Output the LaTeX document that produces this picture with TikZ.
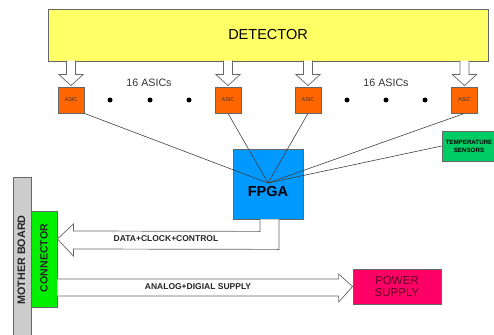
\documentclass[tikz,border=0pt]{standalone}
\usepackage{fontspec}
\setmainfont{Liberation Sans}
\usetikzlibrary{calc}
\definecolor{detyellow}{HTML}{FFFF66}
\definecolor{asicorange}{HTML}{FF6600}
\definecolor{fpgablue}{HTML}{0099FF}
\definecolor{tempgreen}{HTML}{00CC66}
\definecolor{conngreen}{HTML}{00F000}
\definecolor{mbgray}{HTML}{CCCCCC}
\definecolor{powerpink}{HTML}{FF0066}
\definecolor{edge}{HTML}{666666}
\definecolor{wire}{HTML}{404040}
\definecolor{powertext}{HTML}{5A0020}
\tikzset{
  box/.style={draw=edge, line width=0.8pt, inner sep=0pt, align=center},
  asicbox/.style={box, fill=asicorange, minimum width=26pt, minimum height=26pt,
    font=\fontsize{5.5}{6}\selectfont, text=black!80},
  hollow/.style={draw=edge, fill=white, line width=0.7pt, line join=miter},
  link/.style={draw=wire, line width=0.6pt},
  dotmark/.style={fill=black, circle, inner sep=0pt, minimum size=5pt},
}
\begin{document}
\begin{tikzpicture}[x=1pt, y=-1pt]
\useasboundingbox (0,0) rectangle (494,334);

% detector and front-end ASICs
\node[box, fill=detyellow, minimum width=440pt, minimum height=52pt,
  font=\fontsize{14.5}{16}\selectfont] (detector) at (268,35) {DETECTOR};
\node[asicbox] (asic1) at (71,100) {ASIC};
\node[asicbox] (asic2) at (228,100) {ASIC};
\node[asicbox] (asic3) at (308,100) {ASIC};
\node[asicbox] (asic4) at (464.5,100) {ASIC};

% hollow arrows from the detector (26 units above the ASIC tops) into each ASIC
\foreach \a in {asic1,asic2,asic3,asic4}{
  \draw[hollow]
    ($(\a.north)+(-4.5,-26)$) -- ($(\a.north)+(-4.5,-12)$)
    -- ($(\a.north)+(-12,-12)$) -- ($(\a.north)+(0,-1)$) -- ($(\a.north)+(12,-12)$)
    -- ($(\a.north)+(4.5,-12)$) -- ($(\a.north)+(4.5,-26)$);
}

% ASIC count labels and ellipsis dots
\node[font=\fontsize{10.7}{12}\selectfont, text=black!80] (cnt1) at (149,83) {16 ASICs};
\node[font=\fontsize{10.7}{12}\selectfont, text=black!80] (cnt2) at (386,83) {16 ASICs};
\foreach \x/\n in {110/d1,150/d2,189/d3,347/d4,386/d5,425/d6}
  \node[dotmark] (\n) at (\x,100) {};

% FPGA and temperature sensors
\node[box, fill=fpgablue, minimum width=70pt, minimum height=70pt] (fpga) at (268,184) {};
\node[font=\bfseries\fontsize{14.5}{16}\selectfont] (fpgalabel) at (268,192) {FPGA};
\node[box, fill=tempgreen, minimum width=54pt, minimum height=30pt,
  font=\bfseries\fontsize{6.2}{7.8}\selectfont] (temp) at (469,146) {TEMPERATURE\\SENSORS};
\coordinate (hub) at (268,183);

\draw[link] (asic1.south east) -- (hub);
\draw[link] (asic2.south) -- (hub);
\draw[link] (asic3.south) -- (hub);
\draw[link] (asic4.south) -- (hub);
\draw[link] (temp.west) -- (hub);

% mother board and connector
\node[box, fill=mbgray, minimum width=18pt, minimum height=163pt] (mb) at (22,258.5) {};
\node[rotate=90, font=\bfseries\fontsize{10.8}{12}\selectfont, text=black!85] (mblabel)
  at (21.5,260) {MOTHER BOARD};
\node[box, fill=conngreen, minimum width=26pt, minimum height=96pt] (conn) at (44,259) {};
\node[rotate=90, font=\bfseries\fontsize{10.6}{12}\selectfont, text=black!85] (connlabel)
  at (44,258) {CONNECTOR};

% power supply
\node[box, fill=powerpink, minimum width=88pt, minimum height=35pt,
  font=\fontsize{11.5}{12.5}\selectfont, text=powertext] (power) at (397,286.5) {POWER\\SUPPLY};

% data path: FPGA back to the connector
\draw[hollow]
  ($(fpga.south)+(-8,0)$) -- ($(fpga.south)+(-8,12)$) -- ($(conn.east)+(16,-28)$)
  -- ($(conn.east)+(16,-35)$) -- ($(conn.east)+(0,-20)$) -- ($(conn.east)+(16,-3)$)
  -- ($(conn.east)+(16,-10)$) -- ($(fpga.south)+(11,30)$) -- ($(fpga.south)+(11,0)$);
\node[font=\bfseries\fontsize{8.5}{10}\selectfont, text=black!85] (datalabel) at (166,239)
  {DATA+CLOCK+CONTROL};

% supply path: connector to the power supply
\draw[hollow]
  ($(conn.east)+(0,20)$) -- ($(power.west)+(-14,-7.5)$) -- ($(power.west)+(-14,-12.5)$)
  -- (power.west) -- ($(power.west)+(-14,15.5)$) -- ($(power.west)+(-14,9.5)$)
  -- ($(conn.east)+(0,37)$);
\node[font=\bfseries\fontsize{8.5}{10}\selectfont, text=black!85] (supplylabel) at (198,287)
  {ANALOG+DIGIAL SUPPLY};
\end{tikzpicture}
\end{document}
